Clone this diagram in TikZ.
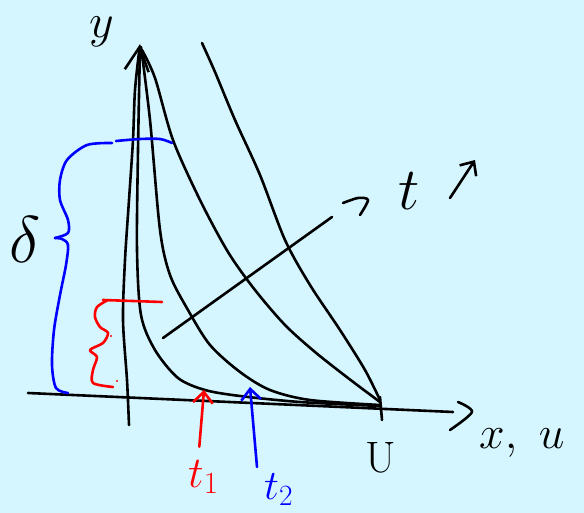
\RequirePackage{fix-cm}
\documentclass[tikz,border=0pt]{standalone}
\usepackage{xcolor}
\usepackage{tikz}
\usetikzlibrary{arrows.meta}
\definecolor{cBg}{RGB}{214,246,255}
\definecolor{cRed}{RGB}{255,0,0}
\definecolor{cBlue}{RGB}{0,0,255}

\begin{document}
\begin{tikzpicture}[x=1pt,y=-1pt,
  pen/.style={line width=2.6pt,line cap=round,line join=round},
  hand/.style={inner sep=1pt,anchor=base west,font=\fontsize{#1}{#1}\selectfont},
  barb/.style={-{Straight Barb[length=#1pt,width=1.8*#1pt]}}]
\useasboundingbox (0,0) rectangle (584,513);
\fill[cBg] (0,0) rectangle (584,513);
% axes
\draw[pen,-{Straight Barb[length=24pt,width=24pt]}] plot[smooth] coordinates {(129,425) (127,380) (123,320) (125,260) (129,200) (133,140) (135,90) (140,44)};
\node[hand=48] (ylab) at (88,38) {$y$};
\draw[pen] (28,393) -- (453,412);
\draw[pen] plot[smooth] coordinates {(458,402) (472,412) (450,430)};
\node[hand=46] (xlab) at (478,448) {$x,\ u$};
\draw[pen] (380,397) -- (382,420);
\node[hand=44] (ulab) at (364,472) {U};
% profiles
\draw[pen] plot[smooth] coordinates {(140,47) (138,150) (137,250) (141,315) (155,350) (178,378) (205,390) (240,396) (300,402) (380,406)};
\draw[pen] plot[smooth] coordinates {(141,47) (150,120) (160,230) (170,275) (188,310) (210,345) (240,372) (270,390) (310,400) (380,405)};
\draw[pen] plot[smooth] coordinates {(142,50) (155,78) (173,140) (200,200) (228,252) (255,290) (285,325) (315,352) (348,378) (380,402)};
\draw[pen] plot[smooth] coordinates {(202,43) (215,72) (235,120) (260,175) (285,240) (310,285) (340,330) (365,370) (380,400)};
% t growing
\draw[pen] (163,338) -- (332,217);
\draw[pen] plot[smooth] coordinates {(343,203) (358,198) (368,200) (360,215)};
\node[hand=60] (tlab) at (397,210) {$t$};
\draw[pen,barb=11] (450,198) -- (475,160);
% boundary layer thickness
\draw[pen,cBlue] plot[smooth] coordinates {(68,393) (56,388) (52,365) (54,330) (60,295) (66,265) (68,245) (62,239) (55,238)};
\draw[pen,cBlue] plot[smooth] coordinates {(55,238) (68,233) (68,220) (60,200) (60,180) (67,160) (87,145) (112,143)};
\draw[pen,cBlue] plot[smooth] coordinates {(116,141) (140,139) (160,139) (172,143)};
\node[hand=66] (dlab) at (8,262) {$\delta$};
\draw[pen,cRed] (103,300) -- (162,302);
\draw[pen,cRed] plot[smooth] coordinates {(108,300) (97,307) (95,317) (100,327) (108,333) (103,343) (90,350) (97,357) (93,370) (93,383) (113,387)};
\fill[cRed] (111,336) circle (1.2) (117,381) circle (1.2);
% times
\node[hand=44,text=cRed] (t1lab) at (187,487) {$t_1$};
\coordinate (t1tip) at (204,390);
\draw[pen,cRed,barb=11] ([xshift=-4pt,yshift=12pt]t1lab.north) -- (t1tip);
\node[hand=42,text=cBlue] (t2lab) at (263,499) {$t_2$};
\coordinate (t2tip) at (250,387);
\draw[pen,cBlue,barb=11] ([xshift=-6pt,yshift=5pt]t2lab.north west) -- (t2tip);
\end{tikzpicture}
\end{document}
